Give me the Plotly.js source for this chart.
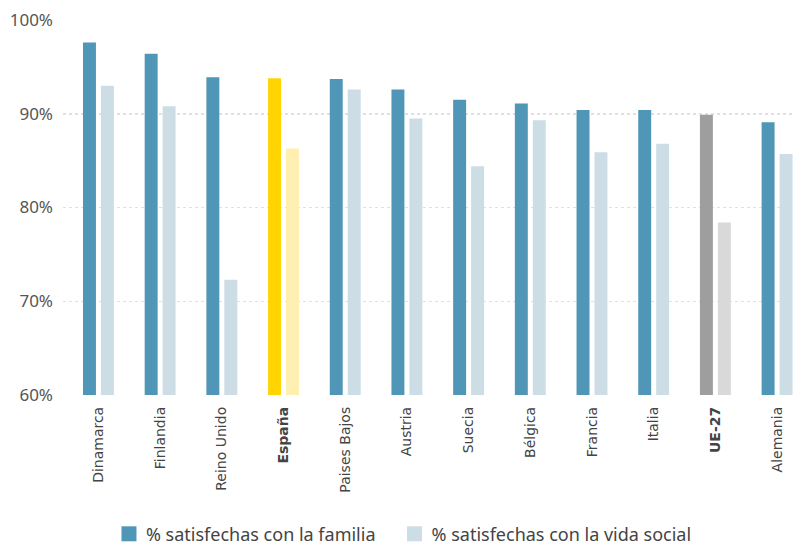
<!DOCTYPE html>
<html><head><meta charset="utf-8">
<script src="https://cdn.plot.ly/plotly-3.0.1.min.js"></script>
<style>html,body{margin:0;padding:0;background:#fff}#chart{width:795px;height:545px}</style>
</head><body><div id="chart"></div>
<script>
var categories = ["Dinamarca","Finlandia","Reino Unido","España","Paises Bajos","Austria","Suecia","Bélgica","Francia","Italia","UE-27","Alemania"];
var tickLabels = ["Dinamarca","Finlandia","Reino Unido","<b>España</b>","Paises Bajos","Austria","Suecia","Bélgica","Francia","Italia","<b>UE-27</b>","Alemania"];
var familia = [97.6, 96.4, 93.9, 93.8, 93.7, 92.6, 91.5, 91.1, 90.4, 90.4, 89.9, 89.1];
var vidaSocial = [93.0, 90.8, 72.3, 86.3, 92.6, 89.5, 84.4, 89.3, 85.9, 86.8, 78.4, 85.7];
var seriesNames = ["% satisfechas con la familia", "% satisfechas con la vida social"];
var yTicks = [60, 70, 80, 90, 100];
var yTickText = ["60%", "70%", "80%", "90%", "100%"];

var famColors = categories.map(function(c){ return c==="España" ? "#ffd400" : (c==="UE-27" ? "#9e9e9e" : "#5096b7"); });
var socColors = categories.map(function(c){ return c==="España" ? "#ffefb0" : (c==="UE-27" ? "#d9d9d9" : "#ccdde6"); });

var traces = [
  {type:"bar", name:seriesNames[0], x:categories, y:familia,
   marker:{color:famColors, line:{width:0}}, width:0.21, offset:-0.251, hoverinfo:"x+y"},
  {type:"bar", name:seriesNames[1], x:categories, y:vidaSocial,
   marker:{color:socColors, line:{width:0}}, width:0.21, offset:0.04, hoverinfo:"x+y"}
];

var layout = {
  width:795, height:545,
  margin:{l:63, r:0, t:20, b:150},
  paper_bgcolor:"#fff", plot_bgcolor:"#fff",
  barmode:"overlay",
  showlegend:true,
  xaxis:{type:"category", categoryorder:"array", categoryarray:categories,
    tickvals:categories, ticktext:tickLabels, tickangle:-90, automargin:false,
    range:[-0.575, 11.29], showgrid:false, zeroline:false, showline:false,
    ticks:"", ticklabelstandoff:8,
    tickfont:{family:"DejaVu Sans, sans-serif", size:14, color:"#444"}},
  yaxis:{range:[60,100], tickvals:yTicks, ticktext:yTickText, automargin:false,
    showgrid:true, gridcolor:"#e0e0e0", griddash:"dot", gridwidth:1.5,
    zeroline:false, showline:false, ticks:"", ticklabelstandoff:9,
    tickfont:{family:"Noto Sans, sans-serif", size:17, color:"#555"}},
  legend:{orientation:"h", xref:"container", yref:"container", x:0.1333, xanchor:"left",
    y:0.02, yanchor:"middle",
    font:{family:"Noto Sans, sans-serif", size:18, color:"#444"},
    itemwidth:30, tracegroupgap:0}
};

Plotly.newPlot("chart", traces, layout, {displayModeBar:false, staticPlot:true}).then(function(){
  var sb = document.querySelector(".legend .scrollbox");
  if (sb) sb.removeAttribute("clip-path");
  var lg = document.querySelector(".legend");
  if (lg) lg.removeAttribute("clip-path");
  var pts = document.querySelectorAll(".legend .traces .legendpoints path");
  var cols = ["#5096b7","#ccdde6"];
  pts.forEach(function(p,i){ p.style.fill = cols[i%2]; p.setAttribute("d","M10.5,7.5H-4.5V-7.5H10.5Z"); });
  var groups = document.querySelectorAll(".legend .traces");
  if (groups.length > 1) {
    var g = groups[1];
    var t = g.getAttribute("transform") || "";
    var m = t.match(/translate\(\s*([-\d.]+)[ ,]+([-\d.]+)\s*\)/);
    if (m) g.setAttribute("transform", "translate(" + (parseFloat(m[1]) + 11) + "," + m[2] + ")");
  }
});
</script></body></html>
